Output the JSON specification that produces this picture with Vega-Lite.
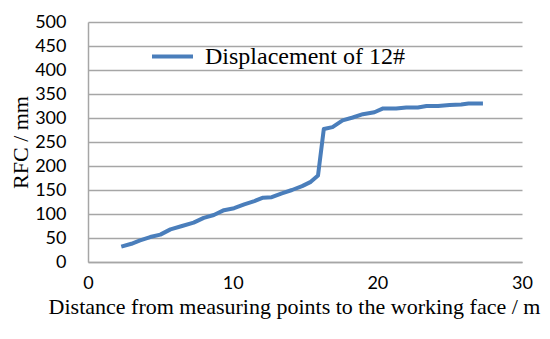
{
  "$schema": "https://vega.github.io/schema/vega-lite/v6.json",
  "width": 434,
  "height": 240,
  "autosize": {"type": "none"},
  "padding": {"left": 88, "top": 22, "right": 28, "bottom": 77},
  "background": "white",
  "config": {"view": {"stroke": null}},
  "data": {
    "values": [
      {"d": 2.3, "v": 32, "s": "Displacement of 12#"},
      {"d": 3.0, "v": 38, "s": "Displacement of 12#"},
      {"d": 3.6, "v": 45, "s": "Displacement of 12#"},
      {"d": 4.3, "v": 52, "s": "Displacement of 12#"},
      {"d": 5.0, "v": 57, "s": "Displacement of 12#"},
      {"d": 5.7, "v": 68, "s": "Displacement of 12#"},
      {"d": 6.5, "v": 75, "s": "Displacement of 12#"},
      {"d": 7.3, "v": 82, "s": "Displacement of 12#"},
      {"d": 8.0, "v": 92, "s": "Displacement of 12#"},
      {"d": 8.7, "v": 98, "s": "Displacement of 12#"},
      {"d": 9.4, "v": 108, "s": "Displacement of 12#"},
      {"d": 10.1, "v": 112, "s": "Displacement of 12#"},
      {"d": 10.8, "v": 120, "s": "Displacement of 12#"},
      {"d": 11.5, "v": 127, "s": "Displacement of 12#"},
      {"d": 12.1, "v": 134, "s": "Displacement of 12#"},
      {"d": 12.7, "v": 135, "s": "Displacement of 12#"},
      {"d": 13.4, "v": 143, "s": "Displacement of 12#"},
      {"d": 14.1, "v": 150, "s": "Displacement of 12#"},
      {"d": 14.8, "v": 158, "s": "Displacement of 12#"},
      {"d": 15.4, "v": 167, "s": "Displacement of 12#"},
      {"d": 15.9, "v": 180, "s": "Displacement of 12#"},
      {"d": 16.3, "v": 277, "s": "Displacement of 12#"},
      {"d": 16.9, "v": 281, "s": "Displacement of 12#"},
      {"d": 17.6, "v": 295, "s": "Displacement of 12#"},
      {"d": 18.3, "v": 301, "s": "Displacement of 12#"},
      {"d": 19.0, "v": 308, "s": "Displacement of 12#"},
      {"d": 19.8, "v": 312, "s": "Displacement of 12#"},
      {"d": 20.4, "v": 320, "s": "Displacement of 12#"},
      {"d": 21.3, "v": 320, "s": "Displacement of 12#"},
      {"d": 22.0, "v": 322, "s": "Displacement of 12#"},
      {"d": 22.8, "v": 322, "s": "Displacement of 12#"},
      {"d": 23.4, "v": 325, "s": "Displacement of 12#"},
      {"d": 24.2, "v": 325, "s": "Displacement of 12#"},
      {"d": 25.0, "v": 327, "s": "Displacement of 12#"},
      {"d": 25.8, "v": 328, "s": "Displacement of 12#"},
      {"d": 26.3, "v": 330, "s": "Displacement of 12#"},
      {"d": 27.3, "v": 330, "s": "Displacement of 12#"}
    ]
  },
  "mark": {"type": "line", "strokeWidth": 4, "strokeJoin": "round"},
  "encoding": {
    "x": {
      "field": "d",
      "type": "quantitative",
      "scale": {"domain": [0, 30], "nice": false, "zero": true},
      "axis": {
        "values": [0, 10, 20, 30],
        "grid": false,
        "ticks": false,
        "domainColor": "#a6a6a6",
        "domainWidth": 1.5,
        "labelFont": "Lato",
        "labelFontSize": 18,
        "labelColor": "#000000",
        "labelPadding": 12,
        "labelFlush": false,
        "title": "Distance from measuring points to the working face / m",
        "titleFont": "Liberation Serif",
        "titleFontSize": 22,
        "titleFontWeight": "normal",
        "titleColor": "#000000",
        "titlePadding": 4,
        "titleX": 206,
        "titleAnchor": "middle"
      }
    },
    "y": {
      "field": "v",
      "type": "quantitative",
      "scale": {"domain": [0, 500], "nice": false},
      "axis": {
        "values": [0, 50, 100, 150, 200, 250, 300, 350, 400, 450, 500],
        "grid": true,
        "gridColor": "#a6a6a6",
        "gridWidth": 1.5,
        "ticks": false,
        "domainColor": "#a6a6a6",
        "domainWidth": 1.5,
        "labelFont": "Lato",
        "labelFontSize": 18,
        "labelColor": "#000000",
        "labelPadding": 22,
        "labelFlush": false,
        "title": "RFC / mm",
        "titleFont": "Liberation Serif",
        "titleFontSize": 22,
        "titleFontWeight": "normal",
        "titleColor": "#000000",
        "titlePadding": 2
      }
    },
    "color": {
      "field": "s",
      "type": "nominal",
      "scale": {"range": ["#4a7ebb"]},
      "legend": {
        "title": null,
        "orient": "none",
        "legendX": 62,
        "legendY": 12,
        "symbolType": "stroke",
        "symbolSize": 1681,
        "symbolStrokeWidth": 4,
        "labelFont": "Liberation Serif",
        "labelFontSize": 24,
        "labelColor": "#000000",
        "labelOffset": 10,
        "labelLimit": 400
      }
    }
  }
}
